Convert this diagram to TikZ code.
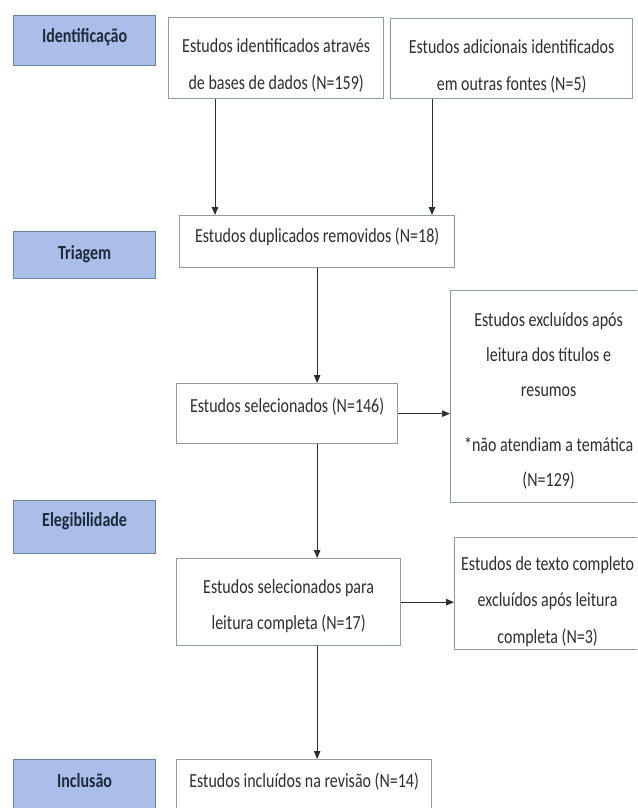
\documentclass[tikz,border=0pt]{standalone}
\usepackage{fontspec}
\setmainfont{Carlito}[FakeStretch=0.8]
\usetikzlibrary{arrows.meta,calc}
\definecolor{lblfill}{HTML}{A9BEE8}
\definecolor{lbldraw}{HTML}{7083A3}
\definecolor{boxdraw}{HTML}{8C9BAA}
\definecolor{txtc}{HTML}{2E2E2E}
\definecolor{lbltxt}{HTML}{1F2A3A}
\definecolor{arrc}{HTML}{2F2F2F}
% width, height, top gap, baselineskip, text
\newcommand\bxt[5]{\parbox[c][#2pt][t]{#1pt}{\centering\fontsize{20}{#4}\selectfont\vspace*{#3pt}\rule{0pt}{15pt}#5\par}}
\tikzset{
  stage/.style={draw=lbldraw, fill=lblfill, line width=1.2pt, inner sep=0pt, anchor=north west, text=lbltxt, font=\bfseries},
  flowbox/.style={draw=boxdraw, fill=white, line width=1.3pt, inner sep=0pt, anchor=north west, text=txtc},
  flowarrow/.style={draw=arrc, line width=1pt, -{Triangle[width=6.5pt,length=8pt]}}
}
\begin{document}
\begin{tikzpicture}[x=1pt,y=-1pt]
\clip (0,0) rectangle (637,808);
\fill[white] (0,0) rectangle (637,808);
% stage labels
\node[stage] (id) at (13,15) {\bxt{142}{50}{11.6}{20}{Identificação}};
\node[stage] (tri) at (13,231) {\bxt{142}{47}{12.6}{20}{Triagem}};
\node[stage] (ele) at (13,500) {\bxt{142}{53}{10.6}{20}{Elegibilidade}};
\node[stage] (inc) at (13,759) {\bxt{142}{60}{12.6}{20}{Inclusão}};
% flow boxes
\node[flowbox] (b1) at (168,17) {\bxt{215}{81}{19.6}{37}{Estudos identificados através\\de bases de dados (N=159)}};
\node[flowbox] (b2) at (390,18) {\bxt{242}{80}{19.6}{37}{Estudos adicionais identificados\\em outras fontes (N=5)}};
\node[flowbox] (dup) at (179,215) {\bxt{275}{52}{11.6}{20}{Estudos duplicados removidos (N=18)}};
\node[flowbox] (sel) at (176,383) {\bxt{221}{60}{13.6}{20}{Estudos selecionados (N=146)}};
\node[flowbox] (excl) at (450,290) {\bxt{196}{212}{20.6}{35}{Estudos excluídos após\\leitura dos títulos e\\resumos\\[20pt]*não atendiam a temática\\(N=129)}};
\node[flowbox] (sel17) at (176,558) {\bxt{224}{87}{19.6}{36}{Estudos selecionados para\\leitura completa (N=17)}};
\node[flowbox] (excl2) at (454,537) {\bxt{186}{112}{17.6}{36.5}{Estudos de texto completo\\excluídos após leitura\\completa (N=3)}};
\node[flowbox] (incl) at (176,759) {\bxt{255}{60}{12.6}{20}{Estudos incluídos na revisão (N=14)}};
% connectors
\draw[flowarrow] ([xshift=47pt]b1.south west) -- ([xshift=47pt]b1.south west |- dup.north);
\draw[flowarrow] ([xshift=42pt]b2.south west) -- ([xshift=42pt]b2.south west |- dup.north);
\draw[flowarrow] (dup.south) -- (dup.south |- sel.north);
\draw[flowarrow] (dup.south |- sel.south) -- (dup.south |- sel17.north);
\draw[flowarrow] (dup.south |- sel17.south) -- (dup.south |- incl.north);
\draw[flowarrow] (sel.east) -- (sel.east -| excl.west);
\draw[flowarrow] (sel17.east) -- (sel17.east -| excl2.west);
\end{tikzpicture}
\end{document}
